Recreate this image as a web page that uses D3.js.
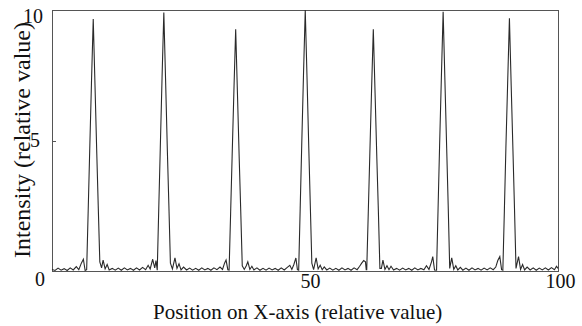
<!DOCTYPE html>
<html>
<head>
<meta charset="utf-8">
<script src="https://cdn.jsdelivr.net/npm/d3@7"></script>
<style>
  html, body { margin: 0; padding: 0; background: #fff; }
  svg { display: block; }
  text { font-family: "Liberation Serif", "Times New Roman", serif; fill: #111; }
</style>
</head>
<body>
<svg id="chart" width="582" height="326"></svg>
<script>
// ---- data ----
const yTickValues = [0, 5, 10];
const xTickValues = [50, 100];
const xLabel = "Position on X-axis (relative value)";
const yLabel = "Intensity (relative value)";
// intensity profile: [position, intensity]
const profile = [
[0.0,0.06],[0.6,0.02],[1.2,0.11],[1.8,0.03],[2.4,0.09],[3.0,0.02],[3.6,0.12],[4.2,0.04],[4.8,0.17],[5.3,0.05],[5.8,0.3],[6.2,0.45],[6.55,0.02],
[6.85,0.05],[7.15,2.3],[7.45,4.6],[7.8,7.2],[8.15,9.65],[8.5,7.1],[8.85,4.5],[9.15,2.4],[9.45,0.35],
[9.8,0.12],[10.1,0.42],[10.5,0.08],[10.9,0.25],[11.3,0.04],[11.9,0.1],[12.5,0.03],[13.1,0.11],[13.7,0.03],[14.3,0.12],[14.9,0.04],[15.5,0.1],[16.1,0.03],[16.7,0.12],[17.3,0.04],[17.9,0.14],[18.5,0.05],[19.0,0.22],[19.4,0.08],[19.9,0.45],[20.3,0.12],[20.55,0.4],
[20.8,0.03],[21.1,2.4],[21.4,4.7],[21.75,7.4],[22.1,9.9],[22.45,7.3],[22.8,4.6],[23.1,2.5],[23.4,0.3],
[23.8,0.08],[24.3,0.5],[24.7,0.1],[25.1,0.28],[25.5,0.04],[26.0,0.15],[26.6,0.04],[27.2,0.11],[27.8,0.03],[28.4,0.1],[29.0,0.03],[29.6,0.12],[30.2,0.04],[30.8,0.1],[31.4,0.03],[32.0,0.12],[32.6,0.05],[33.2,0.15],[33.7,0.06],[34.1,0.3],[34.4,0.42],[34.75,0.05],
[35.0,0.04],[35.3,2.2],[35.6,4.4],[35.95,6.9],[36.3,9.26],[36.65,6.8],[37.0,4.3],[37.3,2.3],[37.6,0.2],
[38.0,0.06],[38.4,0.2],[38.7,0.35],[39.1,0.06],[39.5,0.18],[39.9,0.04],[40.5,0.12],[41.1,0.03],[41.7,0.1],[42.3,0.03],[42.9,0.11],[43.5,0.04],[44.1,0.1],[44.7,0.03],[45.3,0.12],[45.9,0.04],[46.5,0.14],[47.0,0.22],[47.4,0.06],[47.8,0.25],[48.2,0.5],[48.5,0.05],
[48.75,0.03],[49.05,2.4],[49.35,4.8],[49.7,7.5],[50.05,10],[50.4,7.4],[50.75,4.7],[51.05,2.5],[51.35,0.3],
[51.7,0.05],[52.2,0.5],[52.6,0.08],[53.0,0.22],[53.4,0.05],[53.8,0.16],[54.3,0.04],[54.9,0.11],[55.5,0.03],[56.1,0.1],[56.7,0.03],[57.3,0.12],[57.9,0.04],[58.5,0.1],[59.1,0.03],[59.7,0.12],[60.3,0.05],[60.8,0.18],[61.2,0.3],[61.6,0.4],[61.95,0.35],[62.1,0.05],
[62.2,0.05],[62.5,2.2],[62.8,4.4],[63.15,6.9],[63.5,9.26],[63.85,6.8],[64.2,4.3],[64.5,2.3],[64.8,0.1],
[65.1,0.1],[65.4,0.42],[65.8,0.06],[66.2,0.2],[66.6,0.05],[67.0,0.18],[67.5,0.04],[68.1,0.1],[68.7,0.03],[69.3,0.11],[69.9,0.04],[70.5,0.1],[71.1,0.03],[71.7,0.12],[72.3,0.04],[72.9,0.1],[73.5,0.05],[74.0,0.2],[74.5,0.06],[75.0,0.35],[75.25,0.55],[75.6,0.04],
[76.0,0.03],[76.3,2.4],[76.6,4.8],[76.95,7.4],[77.3,9.93],[77.65,7.3],[78.0,4.7],[78.3,2.5],[78.6,0.1],
[79.0,0.5],[79.4,0.06],[79.8,0.2],[80.2,0.04],[80.7,0.14],[81.2,0.03],[81.8,0.11],[82.4,0.03],[83.0,0.12],[83.6,0.04],[84.2,0.1],[84.8,0.03],[85.4,0.11],[86.0,0.04],[86.6,0.12],[87.2,0.05],[87.7,0.15],[88.1,0.4],[88.5,0.55],[88.85,0.05],
[89.1,0.03],[89.4,2.3],[89.7,4.7],[90.05,7.2],[90.4,9.68],[90.75,7.1],[91.1,4.6],[91.4,2.4],[91.7,0.1],
[92.2,0.55],[92.6,0.06],[93.0,0.25],[93.4,0.04],[93.9,0.15],[94.5,0.04],[95.1,0.12],[95.7,0.03],[96.3,0.11],[96.9,0.04],[97.5,0.12],[98.1,0.04],[98.7,0.13],[99.3,0.05],[99.7,0.18],[100,0.1]
];

// ---- layout ----
const svg = d3.select("#chart");
const L = 52, R = 558, T = 10, B = 271;

const x = d3.scaleLinear().domain([0, 100]).range([L, R]);
const y = d3.scaleLinear().domain([0, 10]).range([B, T]);

// frame
svg.append("rect")
  .attr("x", L + 0.5).attr("y", T + 0.5)
  .attr("width", R - L).attr("height", B - T)
  .attr("fill", "none").attr("stroke", "#555").attr("stroke-width", 1);

// trace
const line = d3.line().x(d => x(d[0])).y(d => y(d[1]));
svg.append("path")
  .datum(profile)
  .attr("d", line)
  .attr("fill", "none")
  .attr("stroke", "#2a2a2a")
  .attr("stroke-width", 1.1)
  .attr("stroke-linejoin", "miter");

// y axis
const yAxisG = svg.append("g")
  .attr("transform", `translate(${L},0)`)
  .call(d3.axisLeft(y).tickValues(yTickValues).tickSize(0).tickPadding(9).tickFormat(d3.format("d")));
yAxisG.select(".domain").remove();
const yDx = {0: -7, 5: -12, 10: -9};
const yDy = {0: 8, 5: 0, 10: 6};
yAxisG.selectAll(".tick text")
  .attr("x", d => yDx[d])
  .attr("y", d => yDy[d])
  .style("font-size", "20px")
  .style("font-family", "'Liberation Serif', serif")
  .attr("fill", "#111");
// inner tick at 5
svg.append("line")
  .attr("x1", L).attr("x2", L + 4)
  .attr("y1", Math.round(y(5)) + 0.5).attr("y2", Math.round(y(5)) + 0.5)
  .attr("stroke", "#555");

// x axis
const xAxisG = svg.append("g")
  .attr("transform", `translate(0,${B})`)
  .call(d3.axisBottom(x).tickValues(xTickValues).tickSize(0).tickPadding(3).tickFormat(d3.format("d")));
xAxisG.select(".domain").remove();
const xDx = {50: 5, 100: 2};
xAxisG.selectAll(".tick text")
  .attr("x", d => xDx[d])
  .style("font-size", "20px")
  .style("font-family", "'Liberation Serif', serif")
  .attr("fill", "#111");

// axis titles
svg.append("text")
  .attr("x", 153).attr("y", 319)
  .style("font-size", "21px")
  .text(xLabel);

svg.append("text")
  .attr("transform", "translate(30,140) rotate(-90)")
  .attr("text-anchor", "middle")
  .style("font-size", "24px")
  .text(yLabel);
</script>
</body>
</html>
